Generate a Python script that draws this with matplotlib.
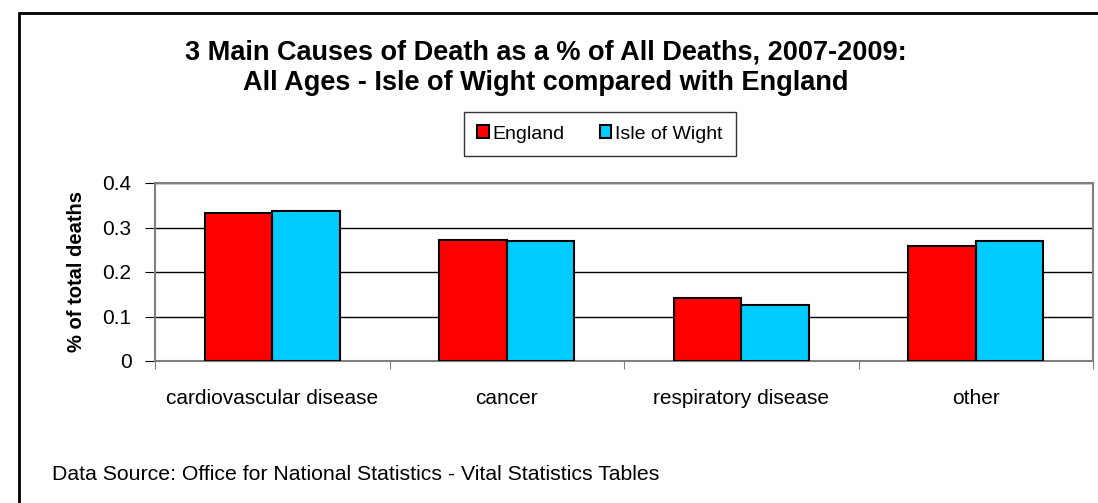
import matplotlib
matplotlib.use("Agg")
import matplotlib.pyplot as plt
import numpy as np
from matplotlib.patches import Rectangle

plt.rcParams['font.family'] = ['Liberation Sans', 'DejaVu Sans']

categories = ["cardiovascular disease", "cancer", "respiratory disease", "other"]
england = [0.332, 0.272, 0.141, 0.259]
isle_of_wight = [0.336, 0.270, 0.126, 0.270]
series_names = ["England", "Isle of Wight"]
yticks = [0, 0.1, 0.2, 0.3, 0.4]

fig = plt.figure(figsize=(10.98, 5.03), dpi=100)

# outer frame (runs off right/bottom edge like the source)
fig.patches.append(Rectangle((19 / 1098, -0.05), 1.2, 1 - 13 / 503 + 0.05,
                             transform=fig.transFigure, fill=False,
                             edgecolor='black', linewidth=2, clip_on=False))

ax = fig.add_axes([155 / 1098, 1 - 361 / 503, 938 / 1098, 178 / 503])

x = np.arange(len(categories))
w = 0.288
ax.bar(x - w / 2, england, w, color='#ff0000', edgecolor='black', linewidth=1.5,
       label=series_names[0], zorder=3)
ax.bar(x + w / 2, isle_of_wight, w, color='#00ccff', edgecolor='black', linewidth=1.5,
       label=series_names[1], zorder=3)

ax.set_xlim(-0.5, len(categories) - 0.5)
ax.set_ylim(0, 0.4)
ax.set_yticks(yticks)
ax.set_yticklabels(["0", "0.1", "0.2", "0.3", "0.4"], fontsize=15)
ax.yaxis.grid(True, color='black', linewidth=1, zorder=0)
ax.set_ylabel("% of total deaths", fontsize=14.5, fontweight='bold', labelpad=12)

# category labels between boundary ticks
ax.set_xticks(np.arange(len(categories) + 1) - 0.5)
ax.set_xticklabels([])
ax.set_xticks(x, minor=True)
ax.set_xticklabels(categories, minor=True, fontsize=15)
ax.tick_params(axis='x', which='minor', length=0, pad=20)
ax.tick_params(axis='x', which='major', length=6, color='gray', direction='out')
ax.tick_params(axis='y', length=7, color='black', direction='out', pad=10)

for s in ax.spines.values():
    s.set_color('gray')
    s.set_linewidth(1.5)

fig.text(546 / 1098, 1 - 52 / 503, "3 Main Causes of Death as a % of All Deaths, 2007-2009:",
         ha='center', va='center', fontsize=19.5, fontweight='bold')
fig.text(546 / 1098, 1 - 83 / 503, "All Ages - Isle of Wight compared with England",
         ha='center', va='center', fontsize=19.5, fontweight='bold')

leg = fig.legend(loc='center', bbox_to_anchor=(600 / 1098, 1 - 134 / 503), ncol=2,
                 fontsize=14, frameon=True, fancybox=False, edgecolor='black',
                 handlelength=0.6, handleheight=0.6, handletextpad=0.2,
                 columnspacing=1.8, borderpad=0.7)
leg.get_frame().set_linewidth(1)

fig.text(52 / 1098, 1 - 475 / 503, "Data Source: Office for National Statistics - Vital Statistics Tables",
         ha='left', va='center', fontsize=15.3)

fig.savefig("out.png", dpi=100)
